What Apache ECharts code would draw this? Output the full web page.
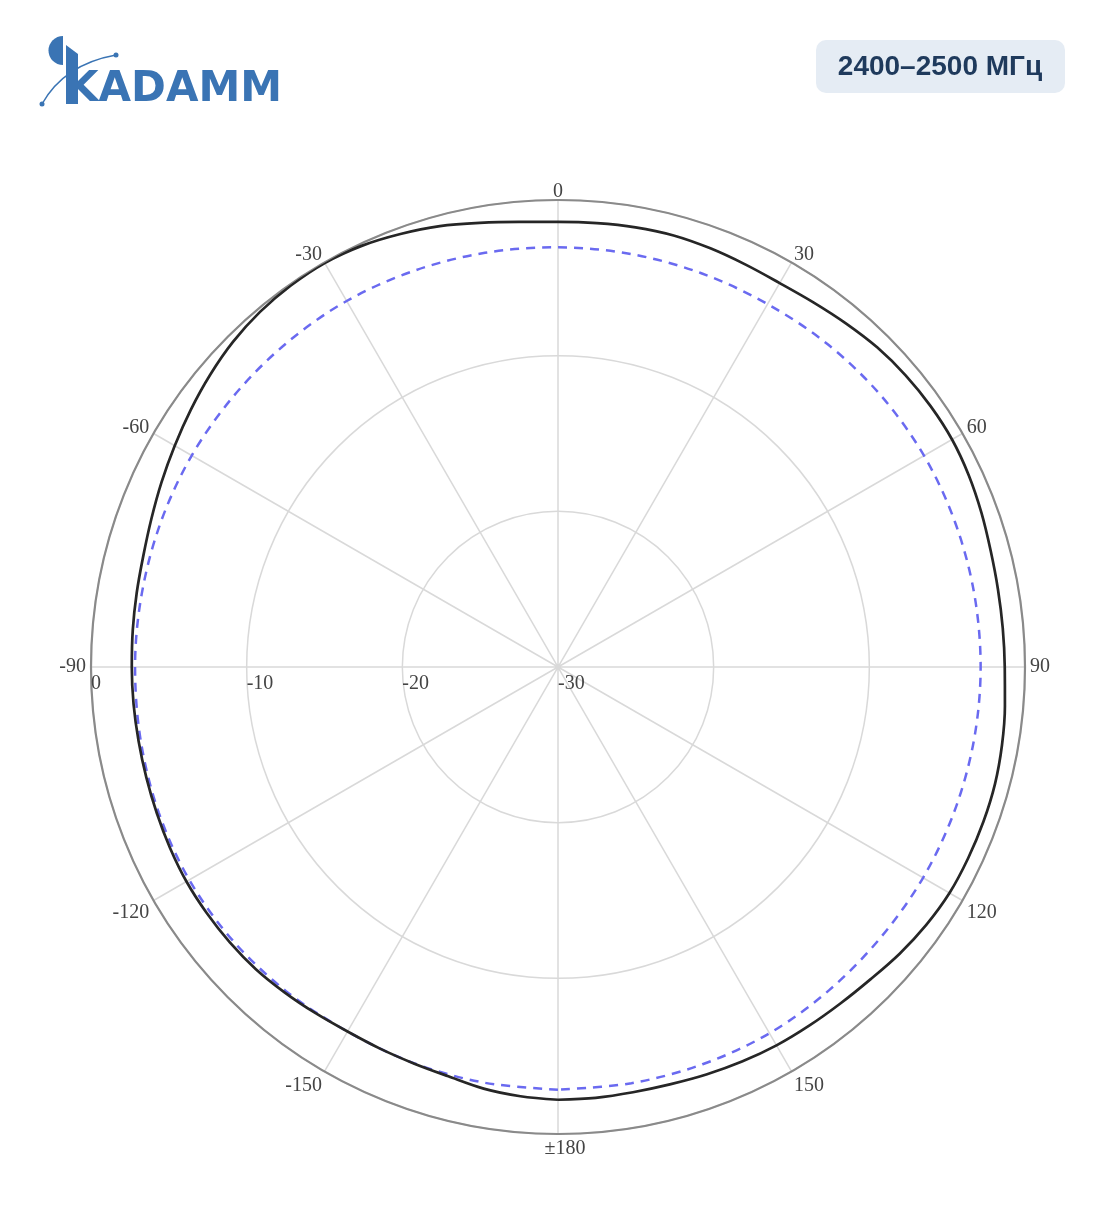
<!DOCTYPE html>
<html><head><meta charset="utf-8">
<script src="https://cdn.jsdelivr.net/npm/echarts@6/dist/echarts.min.js"></script>
<style>html,body{margin:0;padding:0;background:#fff}#c{width:1104px;height:1211px}</style>
</head><body><div id="c"></div>
<script>
// Angle (deg, clockwise from top) and gain (dB)
const blackAngles = [-180,-175,-170,-165,-160,-155,-150,-145,-140,-135,-130,-125,-120,-115,-110,-105,-100,-95,-90,-85,-80,-75,-70,-65,-60,-55,-50,-45,-40,-35,-30,-25,-20,-15,-10,-5,0,5,10,15,20,25,30,35,40,45,50,55,60,65,70,75,80,85,90,95,100,105,110,115,120,125,130,135,140,145,150,155,160,165,170,175,180];
const blackDb = [-2.20,-2.32,-2.50,-2.78,-2.90,-2.95,-2.96,-2.85,-2.70,-2.55,-2.48,-2.45,-2.44,-2.50,-2.57,-2.62,-2.64,-2.63,-2.62,-2.58,-2.52,-2.42,-2.20,-1.90,-1.57,-1.20,-0.82,-0.47,-0.22,-0.08,-0.03,-0.15,-0.40,-0.68,-1.03,-1.30,-1.41,-1.38,-1.32,-1.30,-1.38,-1.48,-1.52,-1.40,-1.20,-0.98,-0.85,-0.78,-0.77,-0.88,-1.05,-1.22,-1.30,-1.32,-1.30,-1.18,-1.04,-0.94,-0.92,-0.93,-0.96,-1.12,-1.35,-1.62,-1.78,-1.87,-1.93,-2.03,-2.14,-2.24,-2.26,-2.22,-2.20];
const blueAngles = [-180,-170,-160,-150,-140,-130,-120,-110,-100,-90,-80,-70,-60,-50,-40,-30,-20,-10,0,10,20,30,40,50,60,70,80,90,100,110,120,130,140,150,160,170,180];
const blueDb = [-2.85,-2.88,-2.92,-2.96,-2.82,-2.70,-2.65,-2.70,-2.78,-2.83,-2.85,-2.84,-2.83,-2.85,-2.85,-2.85,-2.92,-2.98,-3.04,-3.06,-3.08,-3.08,-2.98,-2.90,-2.85,-2.85,-2.85,-2.85,-2.87,-2.90,-2.92,-2.95,-2.90,-2.83,-2.84,-2.85,-2.85];
const radiusTicks = [-30,-20,-10,0];
const angleTicks = [-180,-150,-120,-90,-60,-30,0,30,60,90,120,150,180];
const titleText = '2400–2500 МГц';
const logoText = 'KADAMM';

const chart = echarts.init(document.getElementById('c'), null, {renderer:'canvas'});
const labelFont = {fontFamily:'Liberation Serif', fontSize:20, color:'#444'};
chart.setOption({
  backgroundColor:'#fff',
  animation:false,
  polar:[
    {center:[558,667], radius:467},
    {center:[558,667], radius:467}
  ],
  angleAxis:[
    {polarIndex:0, type:'value', min:angleTicks[0], max:angleTicks[angleTicks.length-1], interval:30,
     startAngle:-90, clockwise:true,
     axisLine:{show:true, lineStyle:{color:'#8a8a8a', width:2.2}},
     axisTick:{show:false},
     splitLine:{show:true, lineStyle:{color:'#d9d9d9', width:1.5}},
     axisLabel:Object.assign({margin:5,
       formatter:v=>{
         if (v===180) return '';
         if (v===-180) return '{b|±180}';
         const s = String(v);
         return Math.abs(v) < 90 ? '{u|'+s+'}' : '{d|'+s+'}';
       },
       rich:{
         u:Object.assign({lineHeight:6}, labelFont),
         d:Object.assign({lineHeight:20}, labelFont),
         b:Object.assign({lineHeight:20, padding:[0,0,0,14]}, labelFont)
       }
     }, labelFont)
    },
    {polarIndex:1, type:'value', min:-90, max:270, startAngle:180, clockwise:true, show:false}
  ],
  radiusAxis:[
    {polarIndex:0, type:'value', min:radiusTicks[0], max:radiusTicks[radiusTicks.length-1], interval:10,
     axisLine:{show:false}, axisTick:{show:false}, axisLabel:{show:false},
     splitLine:{show:true, lineStyle:{color:'#d9d9d9', width:1.5}}
    },
    {polarIndex:1, type:'value', min:radiusTicks[0], max:radiusTicks[radiusTicks.length-1], interval:10,
     axisLine:{show:false}, axisTick:{show:false}, splitLine:{show:false},
     axisLabel:Object.assign({show:true, margin:7, align:'left', verticalAlign:'top'}, labelFont)
    }
  ],
  series:[
    {type:'line', coordinateSystem:'polar', polarIndex:0, symbol:'none', smooth:0.33, z:3,
     lineStyle:{color:'#262626', width:2.7, join:'round'},
     data: blackAngles.map((a,i)=>[blackDb[i], a])},
    {type:'line', coordinateSystem:'polar', polarIndex:0, symbol:'none', smooth:0.33, z:2,
     lineStyle:{color:'#6a6af0', width:2.5, type:[9,7]},
     data: blueAngles.map((a,i)=>[blueDb[i], a])}
  ],
  graphic:[
    // badge
    {type:'rect', left:816, top:40, shape:{width:249, height:53, r:10}, style:{fill:'#e5ecf4'}},
    {type:'text', x:940, y:67, style:{text:titleText, fontFamily:'Liberation Sans', fontWeight:'bold', fontSize:28, fill:'#1f3a5c', align:'center', verticalAlign:'middle'}},
    // logo
    {type:'sector', shape:{cx:63, cy:50.5, r:14.5, r0:0, startAngle:Math.PI/2, endAngle:Math.PI*1.5}, style:{fill:'#3a74b4'}},
    {type:'polygon', shape:{points:[[66,45],[78,54],[78,104],[66,104]]}, style:{fill:'#3a74b4'}},
    {type:'bezierCurve', shape:{x1:42, y1:104, x2:116, y2:55, cpx1:60, cpy1:72, cpx2:88, cpy2:60}, style:{stroke:'#3a74b4', lineWidth:1.5, fill:null}},
    {type:'circle', shape:{cx:42, cy:104, r:2.5}, style:{fill:'#3a74b4'}},
    {type:'circle', shape:{cx:116, cy:55, r:2.5}, style:{fill:'#3a74b4'}},
    {type:'text', x:66, y:90, style:{text:logoText, fontFamily:'DejaVu Sans', fontWeight:'bold', fontSize:42, fill:'#3a74b4', align:'left', verticalAlign:'middle'}}
  ]
});
</script></body></html>
